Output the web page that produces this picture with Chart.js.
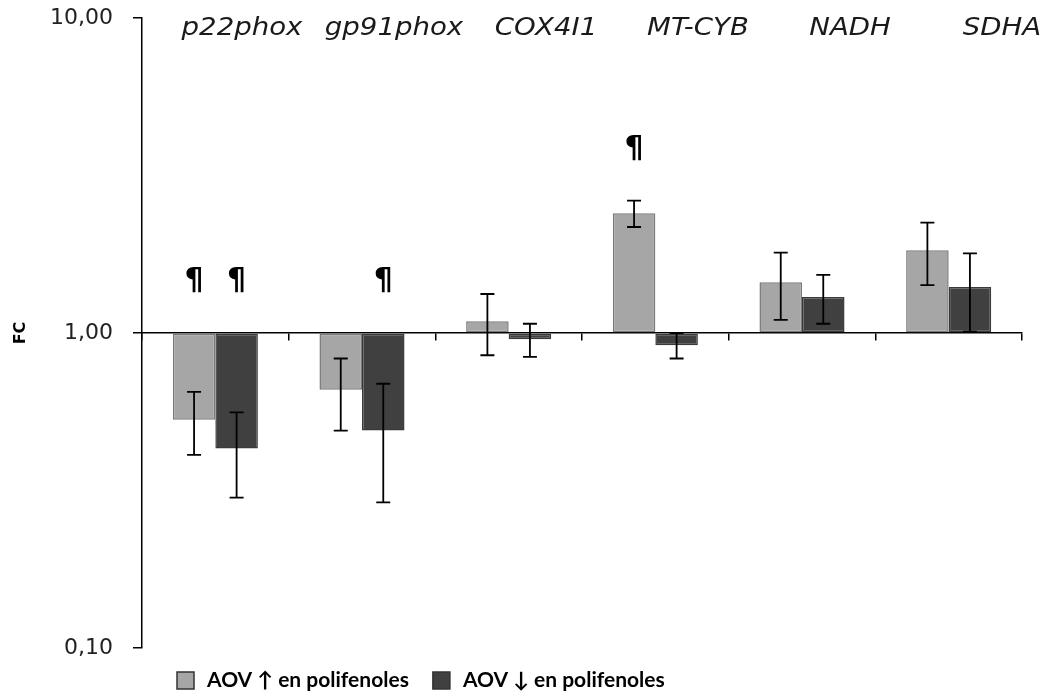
<!DOCTYPE html>
<html lang="es">
<head>
<meta charset="utf-8">
<title>FC genes</title>
<script src="https://cdn.jsdelivr.net/npm/chart.js@4.4.0/dist/chart.umd.min.js"></script>
<style>
  html, body { margin: 0; padding: 0; background: #fff; }
</style>
</head>
<body>
<canvas id="fcChart" width="1047" height="697"></canvas>
<script>
// Genes y fold change (media ± DE) para cada tipo de aceite
const genes = ['p22phox', 'gp91phox', 'COX4I1', 'MT-CYB', 'NADH', 'SDHA'];
const fcAlto = [0.53, 0.66, 1.09, 2.40, 1.45, 1.83];
const deAlto = [0.12, 0.17, 0.24, 0.23, 0.35, 0.41];
const fcBajo = [0.43, 0.49, 0.955, 0.915, 1.30, 1.40];
const deBajo = [0.13, 0.20, 0.115, 0.085, 0.23, 0.39];
// ¶ = diferencia significativa
const sigAlto = [true, false, false, true, false, false];
const sigBajo = [true, true, false, false, false, false];
const ticksY = [0.1, 1, 10];

const FUENTE = "'DejaVu Sans', sans-serif";

// Barras de error, símbolos ¶, nombres de genes arriba y leyenda abajo
const extras = {
    id: 'extras',
    afterDatasetsDraw(chart) {
        const ctx = chart.ctx;
        const y = chart.scales.y;
        const area = chart.chartArea;
        const errores = [deAlto, deBajo];
        const sigs = [sigAlto, sigBajo];
        ctx.save();
        chart.data.datasets.forEach((ds, i) => {
            const meta = chart.getDatasetMeta(i);
            meta.data.forEach((bar, j) => {
                const v = ds.data[j];
                const e = errores[i][j];
                const yTop = y.getPixelForValue(v + e);
                const yBot = y.getPixelForValue(v - e);
                ctx.strokeStyle = '#000';
                ctx.lineWidth = 1.8;
                ctx.beginPath();
                ctx.moveTo(bar.x, yTop); ctx.lineTo(bar.x, yBot);
                ctx.moveTo(bar.x - 7, yTop); ctx.lineTo(bar.x + 7, yTop);
                ctx.moveTo(bar.x - 7, yBot); ctx.lineTo(bar.x + 7, yBot);
                ctx.stroke();
                if (sigs[i][j]) {
                    const ref = y.getPixelForValue(Math.max(1, v + e));
                    ctx.fillStyle = '#000';
                    ctx.font = 'bold 30px ' + FUENTE;
                    ctx.textAlign = 'center';
                    ctx.textBaseline = 'middle';
                    ctx.fillText('¶', bar.x, ref - 52);
                }
            });
        });

        // nombres de genes, repartidos a lo ancho sobre el gráfico
        ctx.fillStyle = '#1a1a1a';
        ctx.font = 'oblique 24px ' + FUENTE;
        ctx.textAlign = 'center';
        ctx.textBaseline = 'middle';
        const x0 = area.left + 100, x1 = area.right - 20;
        genes.forEach((g, j) => {
            const gx = x0 + (x1 - x0) * j / (genes.length - 1);
            ctx.save();
            ctx.translate(gx, area.top + 11);
            ctx.scale(1.15, 1);
            ctx.fillText(g, 0, 0);
            ctx.restore();
        });

        // leyenda
        ctx.font = "bold 21px Lato, 'DejaVu Sans', sans-serif";
        ctx.textAlign = 'left';
        let lx = area.left + 35;
        const ly = 680;
        chart.data.datasets.forEach(ds => {
            ctx.fillStyle = ds.backgroundColor;
            ctx.fillRect(lx, ly - 8, 17, 17);
            ctx.strokeStyle = '#333';
            ctx.lineWidth = 1.5;
            ctx.strokeRect(lx, ly - 8, 17, 17);
            ctx.fillStyle = '#000';
            ctx.fillText(ds.label, lx + 30, ly);
            lx += 30 + ctx.measureText(ds.label).width + 24;
        });
        ctx.restore();
    }
};

new Chart(document.getElementById('fcChart'), {
    type: 'bar',
    data: {
        labels: genes,
        datasets: [
            {
                label: 'AOV ↑ en polifenoles',
                data: fcAlto,
                base: 1,
                backgroundColor: '#a6a6a6',
                borderColor: '#7a7a7a',
                borderWidth: 1.5,
                borderSkipped: false
            },
            {
                label: 'AOV ↓ en polifenoles',
                data: fcBajo,
                base: 1,
                backgroundColor: '#404040',
                borderColor: '#3a3a3a',
                borderWidth: 1.5,
                borderSkipped: false
            }
        ]
    },
    options: {
        responsive: false,
        devicePixelRatio: 1,
        animation: false,
        categoryPercentage: 0.58,
        barPercentage: 1.0,
        layout: { padding: { top: 18, right: 25, left: 0, bottom: 49 } },
        plugins: {
            tooltip: { enabled: false },
            legend: { display: false }
        },
        scales: {
            x: {
                position: { y: 1 },
                grid: { offset: true, drawOnChartArea: false, tickLength: 7, color: '#000', lineWidth: 1.5 },
                border: { color: '#000', width: 1.5 },
                ticks: { display: false }
            },
            y: {
                type: 'logarithmic',
                min: 0.1,
                max: 10,
                afterBuildTicks: s => { s.ticks = ticksY.map(v => ({ value: v })); },
                afterFit: s => {
                    s.width = 142;
                    s.paddingTop = 0;
                    s.paddingBottom = 0;
                },
                grid: { drawOnChartArea: false, tickLength: 9, color: '#000', lineWidth: 1.5 },
                border: { color: '#000', width: 1.5 },
                ticks: {
                    color: '#222',
                    padding: 20,
                    font: { family: FUENTE, size: 22 },
                    callback: v => Number(v).toFixed(2).replace('.', ',')
                },
                title: {
                    display: true,
                    text: 'FC',
                    color: '#000',
                    font: { family: FUENTE, weight: 'bold', size: 16 },
                    padding: { top: 11 }
                }
            }
        }
    },
    plugins: [extras]
});
</script>
</body>
</html>
